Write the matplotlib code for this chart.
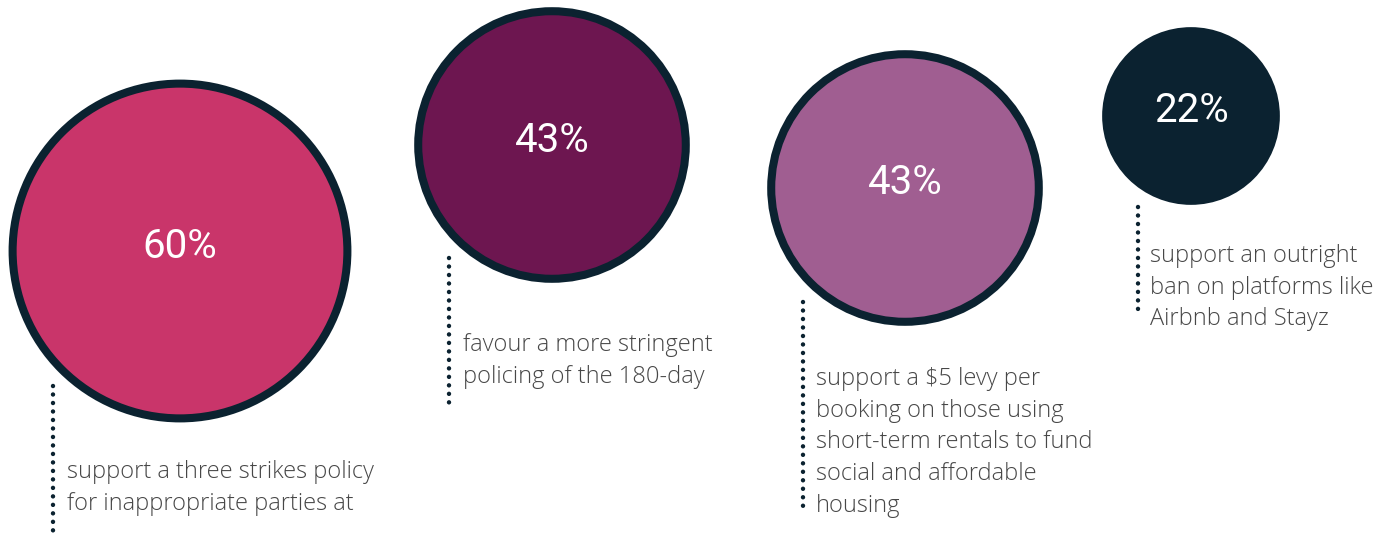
import matplotlib.pyplot as plt
from matplotlib.patches import Circle

# survey results
values = [60, 43, 43, 22]
labels = ["60%", "43%", "43%", "22%"]
captions = [
    ["support a three strikes policy", "for inappropriate parties at"],
    ["favour a more stringent", "policing of the 180-day"],
    ["support a $5 levy per", "booking on those using", "short-term rentals to fund",
     "social and affordable", "housing"],
    ["support an outright", "ban on platforms like", "Airbnb and Stayz"],
]

# layout (pixels, y down)
centers = [(180, 251), (552, 145), (905, 188), (1191, 116)]
dot_x = [53, 449, 803, 1138]
dot_y = [(386, 540), (258, 408), (302, 508), (207, 313)]
text_x = [67, 463, 816, 1150]
text_y0 = [478, 351, 385, 262]
line_gap = 31.7
fills = ["#C9356A", "#6D1650", "#A05E91", "#0B2230"]
navy = "#0B2230"
grey = "#474747"

fig = plt.figure(figsize=(13.94, 5.35), dpi=100)
ax = fig.add_axes([0, 0, 1, 1])
ax.set_xlim(0, 1394)
ax.set_ylim(535, 0)
ax.set_aspect("equal")
ax.axis("off")

for i, v in enumerate(values):
    r = 11.73 * v ** 0.655  # outer radius
    cx, cy = centers[i]
    ax.add_patch(Circle((cx, cy), r - 4, facecolor=fills[i], edgecolor=navy,
                        linewidth=5.8))
    ax.text(cx, cy - 5, labels[i], color="white", fontsize=29, family="Roboto",
            ha="center", va="center")

    ax.plot([dot_x[i], dot_x[i]], dot_y[i], color=navy, linewidth=3.2,
            linestyle=(0, (0.01, 1.9)), dash_capstyle="round", clip_on=True)

    for j, line in enumerate(captions[i]):
        ax.text(text_x[i], text_y0[i] + j * line_gap, line, color=grey,
                fontsize=17, family="Open Sans", fontweight="light",
                ha="left", va="baseline")

fig.savefig("out.png", dpi=100)
